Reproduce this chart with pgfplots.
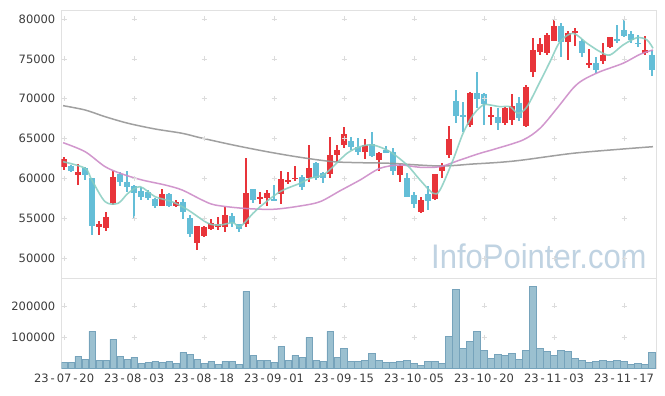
\documentclass[border=0pt]{standalone}
\usepackage{pgfplots}
\pgfplotsset{compat=1.18}
\usepackage{pgfplotstable}
\usepackage{fontspec}
\setmainfont{DejaVu Sans}
\newfontfamily\wmfont{Liberation Sans}
\definecolor{upred}{RGB}{232,52,58}
\definecolor{downblue}{RGB}{100,190,215}
\definecolor{maA}{RGB}{135,205,192}
\definecolor{maB}{RGB}{205,140,200}
\definecolor{maC}{RGB}{150,150,150}
\definecolor{volfill}{RGB}{155,192,208}
\definecolor{voledge}{RGB}{118,163,187}
\definecolor{framec}{RGB}{225,225,225}
\definecolor{crossc}{RGB}{220,220,220}
\definecolor{labelc}{RGB}{60,60,60}
\definecolor{wmc}{RGB}{192,211,226}
\newcommand{\hy}{\kern0.17em-\kern0.17em}

\pgfplotstableread{
i o h l c
0 61390 62720 61050 62390
1 61550 61680 60800 60960
2 60460 61800 59130 60800
3 61300 61420 59790 60460
4 60010 60100 52860 54020
5 53860 54690 52860 54270
6 53810 55740 53360 55110
7 56950 60960 56660 60130
8 60550 60840 59040 59540
9 59510 60960 58330 58950
10 59040 59170 54860 58130
11 58410 58950 57290 57700
12 58290 58540 57290 57500
13 57470 57550 56240 56490
14 56580 58630 56500 58020
15 58020 58170 56370 56530
16 56570 57290 56440 57000
17 57070 57410 54860 55750
18 55060 55400 52680 53020
19 51930 54080 51010 54020
20 52800 54020 52680 53860
21 53680 54900 53520 54360
22 53930 55190 53520 54240
23 53860 56370 53310 55360
24 55280 55620 53930 54440
25 54240 54300 53310 53610
26 54270 62520 53930 58130
27 58630 58700 56870 57290
28 57370 58330 56750 57700
29 57570 58540 56530 58130
30 57450 59130 57150 57200
31 58040 60920 56780 59880
32 59580 60840 59290 59790
33 59920 61550 59710 60050
34 60130 60420 58540 58950
35 60010 64190 59580 61260
36 61890 62050 59790 60010
37 60710 60840 59380 60010
38 60550 65230 60010 62900
39 62900 64190 62090 63560
40 64150 66410 63770 65530
41 64730 65150 63560 63900
42 63900 65030 62930 63350
43 63350 64900 62430 64190
44 64310 65860 62720 62850
45 62310 63270 60960 63140
46 63560 64060 63140 63220
47 63310 63770 60420 60960
48 60460 61800 59580 61550
49 60010 60640 57620 57700
50 57910 58330 56240 56780
51 55820 57620 55690 57290
52 58040 59040 56030 57200
53 57370 60550 57300 60510
54 60960 61890 60010 61550
55 62930 66570 62520 65000
56 69710 71090 66910 67870
57 67990 69620 65780 67740
58 66700 70800 66480 70680
59 70680 73310 68790 69960
60 70590 70700 66700 69290
61 67740 68920 66700 67990
62 67740 68790 66070 66990
63 66910 68900 66700 68870
64 67330 70550 66700 69120
65 69420 70250 67200 67610
66 66610 71720 66500 71500
67 73310 77650 72760 76110
68 75820 77580 75480 76830
69 75700 78280 75480 77990
70 77280 79880 77200 79120
71 79120 79460 75270 77150
72 77150 78530 74860 78280
73 78280 78830 76610 78490
74 77240 77450 75270 75770
75 74190 76200 73810 74440
76 74440 75270 73260 73600
77 74770 76950 74350 75480
78 76530 77800 76400 77700
79 77450 79250 76950 77280
80 78620 79960 77700 77870
81 78120 78530 77030 77370
82 77030 77990 76450 76900
83 75770 77870 75480 76110
84 75480 76110 72820 73600
}\candles

\pgfplotstableread{
i v
0 20100
1 20100
2 39300
3 29700
4 119200
5 26500
6 26500
7 93600
8 39300
9 29700
10 36100
11 16900
12 20100
13 23300
14 20100
15 23300
16 16900
17 52000
18 45700
19 29700
20 16900
21 23300
22 13700
23 23300
24 23300
25 13700
26 247000
27 42500
28 26500
29 26500
30 20100
31 71200
32 26500
33 42500
34 36100
35 100000
36 26500
37 23300
38 119200
39 36100
40 64800
41 23300
42 23300
43 26500
44 48900
45 26500
46 20100
47 20100
48 23300
49 26500
50 16900
51 10500
52 23300
53 23300
54 16900
55 103200
56 253400
57 64800
58 87200
59 119200
60 58500
61 32900
62 45700
63 42500
64 48900
65 29700
66 58500
67 263000
68 64800
69 55300
70 42500
71 58500
72 55300
73 32900
74 26500
75 20100
76 23300
77 26500
78 23300
79 26500
80 23300
81 13700
82 16900
83 13700
84 52000
}\volumes

\pgfplotstableread{
x y
-0.14 62090
3 61263
3.96 59794
5.86 57071
7.71 56870
9.14 58125
10.86 58953
13 57699
15.43 57071
17.71 56030
20.57 54360
22.29 54147
24.14 54436
25.14 53934
27 55616
28 56444
30.86 58327
33.71 59381
35.14 60007
37 60422
38.43 61464
40.43 63143
42.29 63976
44.14 64187
46.57 63346
49 61677
50.86 59795
52.71 58125
53.71 58540
55.57 62305
57 65655
58.43 67952
59.86 69207
60.86 69207
62.29 68994
63.71 68994
64.86 68165
66.14 68994
68 72131
69.43 74641
70.86 77151
72.71 78205
74.71 76950
76.57 75896
78 75482
79.86 76734
81.86 77653
83.29 77364
84.14 76323
}\maone

\pgfplotstableread{
x y
-0.14 64476
3 63347
5.86 61464
8.29 60548
11.14 59795
14.43 59167
16.86 58540
19.71 57285
21.57 56657
25.57 56243
29.86 56118
33.71 56531
36.57 57071
39.43 58440
42.29 59795
45.14 61263
48 61677
50.86 61388
53.71 61464
56.57 62305
59.43 63145
61.57 63685
65.57 64815
68 66283
70.43 68793
72.71 71303
74.14 72345
76.57 73387
79.86 74441
82.29 75570
84.14 76110
}\matwo

\pgfplotstableread{
x y
-0.14 69120
3 68580
5.86 67739
9.14 66910
13 66195
16.86 65656
19.43 65103
24.14 64187
29 63346
33.71 62643
38.43 62091
42.29 61966
46.57 61890
53.71 61551
58.43 61802
62.29 62016
65.57 62305
72.71 63145
79.86 63685
84.14 63974
}\mathree

\pgfplotsset{
  every axis/.append style={
    scale only axis,
    width=594.5pt,
    xmin=-0.37, xmax=84.57,
    axis line style={framec},
    major tick length=0pt,
    tick label style={font=\fontsize{11.5}{13}\selectfont, text=labelc},
    scaled y ticks=false,
    clip=true,
  },
  candle/.style 2 args={draw=none, mark=none, forget plot,
    error bars/.cd, y dir=both, y explicit, error mark=none,
    error bar style={line width=#1, draw=#2}},
}

\begin{document}
\begin{tikzpicture}
\fill[white] (0pt,0pt) rectangle (665pt,396pt);

% ---------- price panel ----------
\begin{axis}[
  at={(61.5pt,118pt)}, anchor=south west,
  height=268pt,
  ymin=47495, ymax=81129,
  ytick={50000,55000,60000,65000,70000,75000,80000},
  yticklabels={50000,55000,60000,65000,70000,75000,80000},
  xtick={0,10,...,80},
  xticklabels={},
  yticklabel style={inner sep=0pt, xshift=-6pt},
]
\pgfplotsinvokeforeach{0,10,...,80}{
  \addplot[only marks, mark=+, mark size=2.5pt, crossc, forget plot]
    coordinates {(#1,50000)(#1,55000)(#1,60000)(#1,65000)(#1,70000)(#1,75000)(#1,80000)};
}
\node[font=\wmfont\fontsize{31}{31}\selectfont, text=wmc, anchor=center, yscale=1.1]
  at (rel axis cs:0.803,0.082) {InfoPointer.com};

% wicks
\addplot[candle={1.2pt}{upred}]
  table[x=i, y expr={\thisrow{c}>=\thisrow{o} ? (\thisrow{h}+\thisrow{l})/2 : nan},
        y error expr={(\thisrow{h}-\thisrow{l})/2}] {\candles};
\addplot[candle={1.2pt}{downblue}]
  table[x=i, y expr={\thisrow{c}<\thisrow{o} ? (\thisrow{h}+\thisrow{l})/2 : nan},
        y error expr={(\thisrow{h}-\thisrow{l})/2}] {\candles};
% bodies
\addplot[candle={5.4pt}{upred}]
  table[x=i, y expr={\thisrow{c}>=\thisrow{o} ? (\thisrow{o}+\thisrow{c})/2 : nan},
        y error expr={max(abs(\thisrow{c}-\thisrow{o})/2,70)}] {\candles};
\addplot[candle={5.4pt}{downblue}]
  table[x=i, y expr={\thisrow{c}<\thisrow{o} ? (\thisrow{o}+\thisrow{c})/2 : nan},
        y error expr={max(abs(\thisrow{c}-\thisrow{o})/2,70)}] {\candles};

% moving averages
\addplot[maC, line width=1.5pt, opacity=0.9, smooth, mark=none] table[x=x,y=y] {\mathree};
\addplot[maB, line width=1.5pt, opacity=0.9, smooth, mark=none] table[x=x,y=y] {\matwo};
\addplot[maA, line width=1.6pt, opacity=0.85, smooth, mark=none] table[x=x,y=y] {\maone};
\end{axis}

% ---------- volume panel ----------
\begin{axis}[
  at={(61.5pt,27.4pt)}, anchor=south west,
  height=90.6pt,
  ymin=0, ymax=289467,
  ytick={100000,200000},
  yticklabels={100000,200000},
  xtick={0,10,...,80},
  xticklabels={23\hy07\hy20,23\hy08\hy03,23\hy08\hy18,23\hy09\hy01,23\hy09\hy15,23\hy10\hy05,23\hy10\hy20,23\hy11\hy03,23\hy11\hy17},
  xticklabel style={inner sep=0pt, anchor=north, yshift=-5.5pt},
  yticklabel style={inner sep=0pt, xshift=-6pt},
]
\pgfplotsinvokeforeach{0,10,...,80}{
  \addplot[only marks, mark=+, mark size=2.5pt, crossc, forget plot]
    coordinates {(#1,100000)(#1,200000)};
}
\addplot[ybar, bar width=0.93, fill=volfill, draw=voledge, line width=0.6pt, bar shift=0pt]
  table[x=i, y=v] {\volumes};
\end{axis}
\pgfresetboundingbox
\path[use as bounding box] (0pt,0pt) rectangle (665pt,396pt);
\end{tikzpicture}
\end{document}
